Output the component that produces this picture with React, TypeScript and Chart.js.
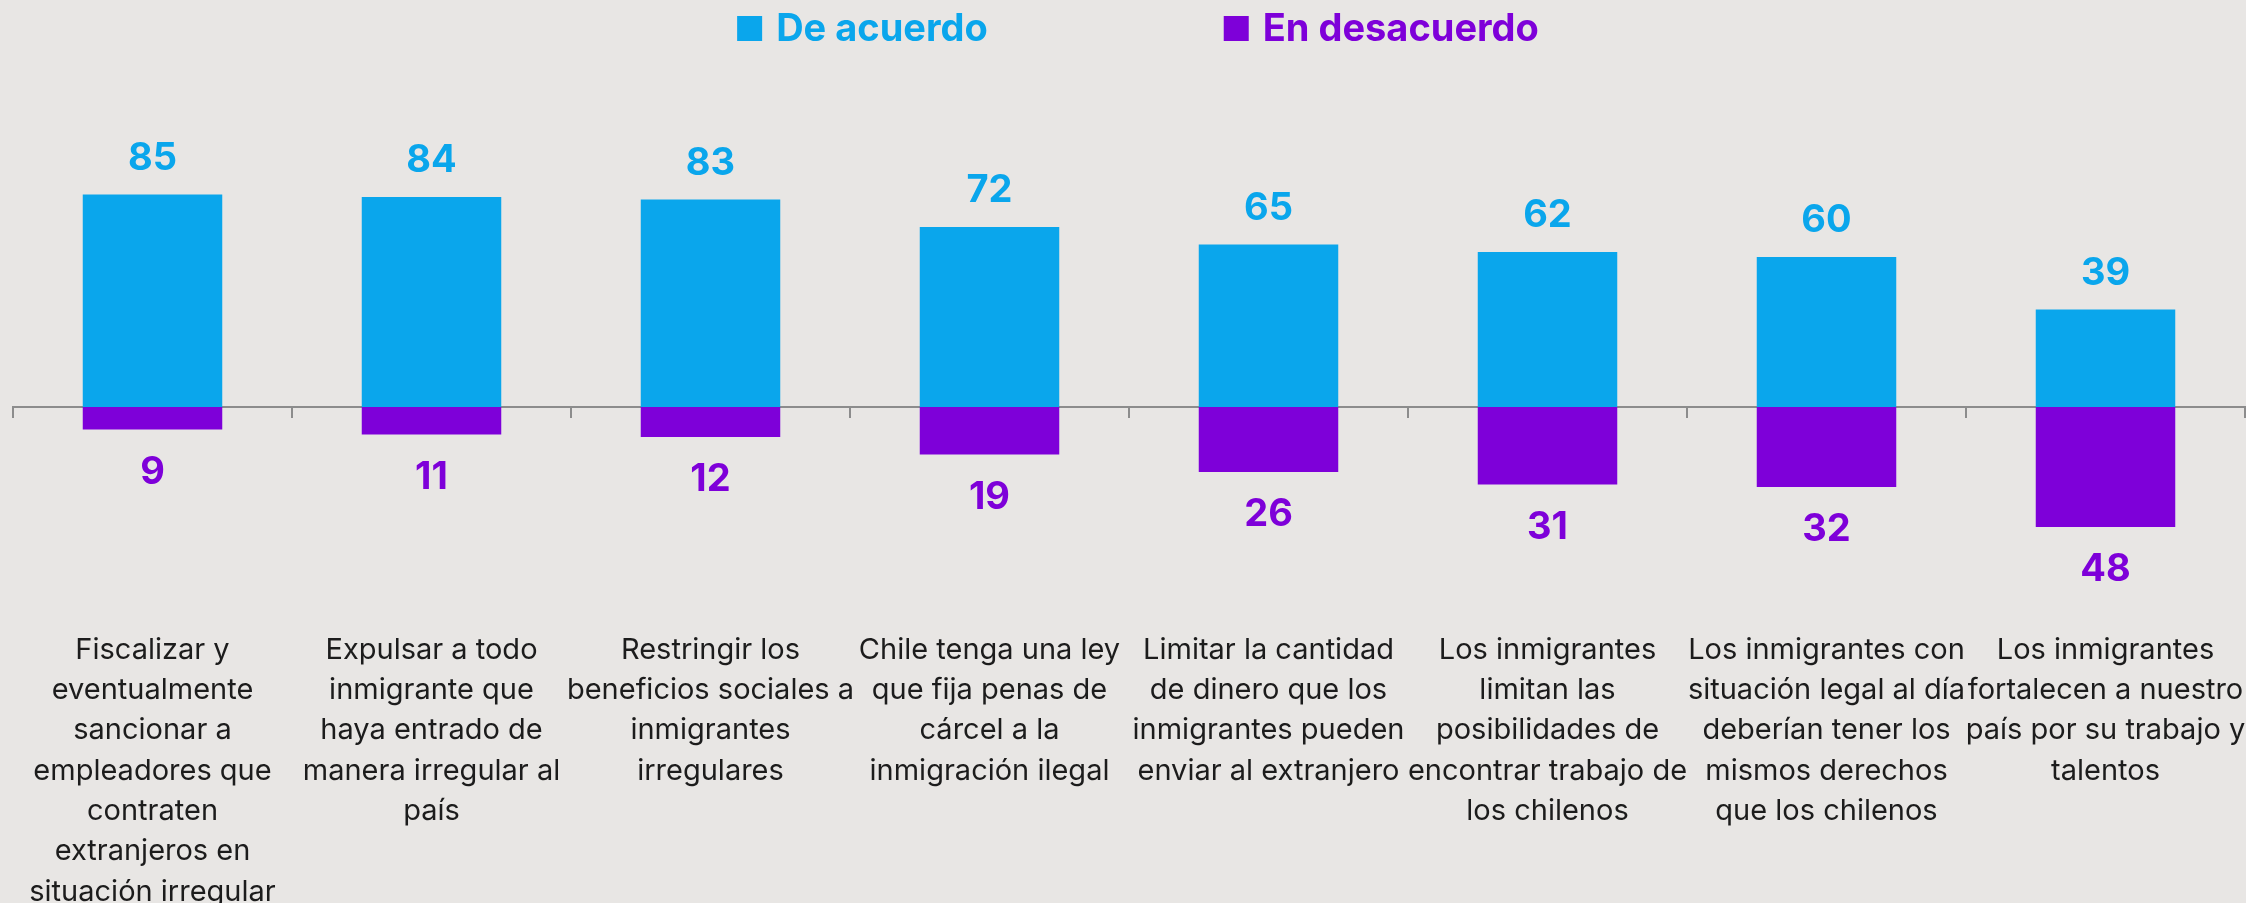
import React, { useEffect, useRef } from 'react';
import { Chart, registerables } from 'chart.js';

Chart.register(...registerables);

const categories: string[][] = [
  ['Fiscalizar y', 'eventualmente', 'sancionar a', 'empleadores que', 'contraten', 'extranjeros en', 'situación irregular'],
  ['Expulsar a todo', 'inmigrante que', 'haya entrado de', 'manera irregular al', 'país'],
  ['Restringir los', 'beneficios sociales a', 'inmigrantes', 'irregulares'],
  ['Chile tenga una ley', 'que fija penas de', 'cárcel a la', 'inmigración ilegal'],
  ['Limitar la cantidad', 'de dinero que los', 'inmigrantes pueden', 'enviar al extranjero'],
  ['Los inmigrantes', 'limitan las', 'posibilidades de', 'encontrar trabajo de', 'los chilenos'],
  ['Los inmigrantes con', 'situación legal al día', 'deberían tener los', 'mismos derechos', 'que los chilenos'],
  ['Los inmigrantes', 'fortalecen a nuestro', 'país por su trabajo y', 'talentos'],
];

const seriesNames = ['De acuerdo', 'En desacuerdo'];
const deAcuerdo = [85, 84, 83, 72, 65, 62, 60, 39];
const enDesacuerdo = [9, 11, 12, 19, 26, 31, 32, 48];

const BLUE = '#0AA6EC';
const PURPLE = '#7E00D9';
const BG = '#E8E6E4';
const AXIS = '#8C8C8C';
const TEXT = '#1C1C1C';
const FONT = 'Inter, "Noto Sans", sans-serif';

const valueLabels = {
  id: 'valueLabels',
  afterDatasetsDraw(chart: any) {
    const ctx = chart.ctx;
    ctx.save();
    ctx.font = `700 38px ${FONT}`;
    ctx.textAlign = 'center';
    ctx.textBaseline = 'alphabetic';
    chart.data.datasets.forEach((ds: any, di: number) => {
      const meta = chart.getDatasetMeta(di);
      ctx.fillStyle = ds.backgroundColor;
      meta.data.forEach((el: any, i: number) => {
        const v = ds.data[i];
        const txt = String(Math.abs(v));
        const y = v >= 0 ? el.y - 25 : el.y + 54;
        ctx.fillText(txt, el.x, y);
      });
    });
    ctx.restore();
  },
};

const topLegend = {
  id: 'topLegend',
  afterDraw(chart: any, _args: any, opts: any) {
    const ctx = chart.ctx;
    ctx.save();
    ctx.font = `700 ${opts.fontSize}px ${FONT}`;
    ctx.textBaseline = 'alphabetic';
    ctx.textAlign = 'left';
    const items = chart.data.datasets.map((ds: any) => ({
      text: ds.label,
      color: ds.backgroundColor,
      w: ctx.measureText(ds.label).width,
    }));
    const total =
      items.reduce((s: number, it: any) => s + opts.box + opts.textGap + it.w, 0) +
      opts.itemGap * (items.length - 1);
    let x = opts.centerX - total / 2;
    items.forEach((it: any) => {
      ctx.fillStyle = it.color;
      ctx.fillRect(x, opts.boxTop, opts.box, opts.box);
      ctx.fillText(it.text, x + opts.box + opts.textGap, opts.baseline);
      x += opts.box + opts.textGap + it.w + opts.itemGap;
    });
    ctx.restore();
  },
};

export default function App() {
  const ref = useRef<HTMLCanvasElement | null>(null);

  useEffect(() => {
    if (!ref.current) return;
    const chart = new Chart(ref.current, {
      type: 'bar',
      data: {
        labels: categories,
        datasets: [
          {
            label: seriesNames[0],
            data: deAcuerdo,
            backgroundColor: BLUE,
            barPercentage: 0.5,
            categoryPercentage: 1,
            xAxisID: 'x',
            yAxisID: 'y',
          },
          {
            label: seriesNames[1],
            data: enDesacuerdo.map((v) => -v),
            backgroundColor: PURPLE,
            barPercentage: 0.5,
            categoryPercentage: 1,
            xAxisID: 'x',
            yAxisID: 'y',
          },
        ],
      },
      options: {
        responsive: true,
        maintainAspectRatio: false,
        animation: false,
        layout: { padding: { top: 157, left: 13, right: 1, bottom: 0 } },
        plugins: {
          legend: { display: false },
          tooltip: { enabled: false },
          topLegend: {
            centerX: 1138,
            boxTop: 16,
            box: 25,
            textGap: 14,
            itemGap: 236,
            baseline: 41,
            fontSize: 38,
          },
        } as any,
        scales: {
          x: {
            stacked: true,
            grid: { display: false, drawTicks: false },
            border: { display: false },
            ticks: {
              autoSkip: false,
              maxRotation: 0,
              minRotation: 0,
              padding: 0,
              color: TEXT,
              font: { family: FONT, size: 29, lineHeight: 40.3 / 29 },
            },
            afterFit: (s: any) => {
              s.height = 300;
            },
          },
          x0: {
            axis: 'x',
            type: 'category',
            position: { y: 0 },
            offset: true,
            z: 1,
            grid: {
              display: true,
              offset: true,
              drawOnChartArea: false,
              drawTicks: true,
              tickLength: 10,
              color: AXIS,
              lineWidth: 2,
            },
            border: { display: true, color: AXIS, width: 2 },
            ticks: { display: false },
          },
          y: { stacked: true, display: false, min: -89.2, max: 100 },
        } as any,
      },
      plugins: [valueLabels, topLegend],
    });
    return () => chart.destroy();
  }, []);

  return (
    <div
      style={{
        position: 'fixed',
        left: 0,
        top: 0,
        width: '2246px',
        height: '903px',
        overflow: 'hidden',
        background: BG,
      }}
    >
      <div style={{ position: 'relative', width: '2246px', height: '930px' }}>
        <canvas ref={ref} />
      </div>
    </div>
  );
}
